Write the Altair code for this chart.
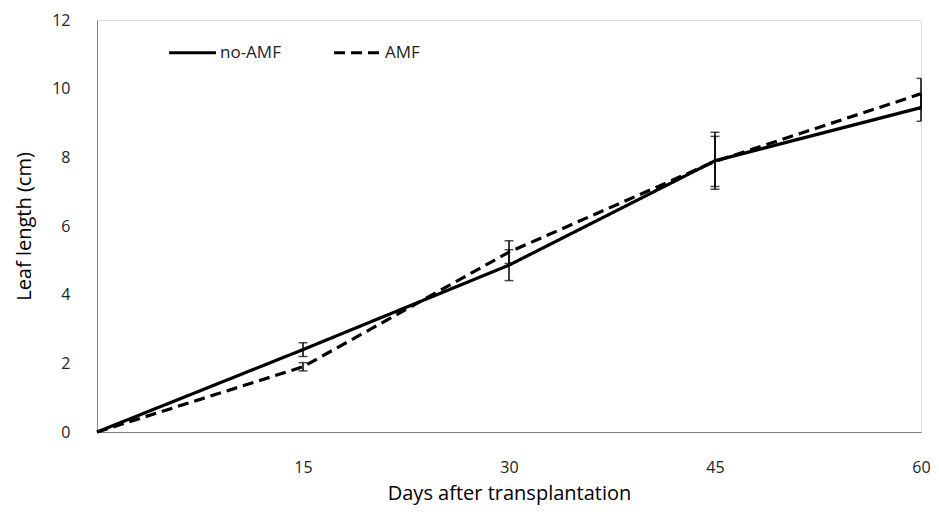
import altair as alt
import pandas as pd

# Leaf length over time, with and without arbuscular mycorrhizal fungi
days = [0, 15, 30, 45, 60]
series_names = ["no-AMF", "AMF"]
no_amf = [0, 2.40, 4.86, 7.90, 9.45]
no_amf_err = [0, 0.20, 0.45, 0.83, 0.40]
amf = [0, 1.90, 5.24, 7.88, 9.85]
amf_err = [0, 0.12, 0.33, 0.73, 0.45]
x_ticks = [15, 30, 45, 60]
y_ticks = [0, 2, 4, 6, 8, 10, 12]

rows = []
for name, vals, errs in [("no-AMF", no_amf, no_amf_err), ("AMF", amf, amf_err)]:
    for d, v, e in zip(days, vals, errs):
        rows.append({"day": d, "series": name, "length": v, "err": e,
                     "lo": v - e, "hi": v + e})
df = pd.DataFrame(rows)

FONT = "Open Sans"

x_enc = alt.X(
    "day:Q",
    scale=alt.Scale(domain=[0, 60], nice=False),
    axis=alt.Axis(
        values=x_ticks, title="Days after transplantation", grid=False,
        ticks=False, domainColor="#808080", labelFontSize=16,
        labelPadding=27, labelFlush=False, titleFontSize=20, titlePadding=8,
        labelColor="#222", titleColor="#000", labelFont=FONT, titleFont=FONT,
        titleFontWeight="normal",
    ),
)
y_scale = alt.Scale(domain=[0, 12], nice=False)

lines = alt.Chart(df).mark_line(strokeWidth=3.2, color="black").encode(
    x=x_enc,
    y=alt.Y(
        "length:Q", scale=y_scale,
        axis=alt.Axis(
            values=y_ticks, title="Leaf length (cm)", grid=False, ticks=False,
            domainColor="#808080", labelFontSize=16, labelPadding=27,
            titleFontSize=20, titlePadding=17, labelColor="#222",
            titleColor="#000", labelFont=FONT, titleFont=FONT,
            titleFontWeight="normal",
        ),
    ),
    strokeDash=alt.StrokeDash(
        "series:N",
        scale=alt.Scale(domain=series_names, range=[[1, 0], [11, 6]]),
        legend=alt.Legend(
            title=None, orient="none", legendX=70, legendY=7,
            direction="horizontal", symbolType="stroke", symbolSize=2200,
            symbolStrokeWidth=3.2, symbolStrokeColor="black",
            labelFontSize=17, labelFont=FONT, labelColor="#222",
            labelOffset=2, columnPadding=46,
        ),
    ),
    detail="series:N",
)

err_data = alt.Chart(df).transform_filter(alt.datum.day > 0)

bars = err_data.mark_rule(color="black", strokeWidth=1.5).encode(
    x="day:Q",
    y=alt.Y("lo:Q", scale=y_scale),
    y2="hi:Q",
)
caps_lo = err_data.mark_tick(color="black", orient="horizontal", size=9,
                             thickness=1.5, clip=True).encode(
    x="day:Q", y=alt.Y("lo:Q", scale=y_scale)
)
caps_hi = err_data.mark_tick(color="black", orient="horizontal", size=9,
                             thickness=1.5, clip=True).encode(
    x="day:Q", y=alt.Y("hi:Q", scale=y_scale)
)

chart = (
    alt.layer(lines, bars, caps_lo, caps_hi)
    .properties(
        width=824, height=412,
        autosize=alt.AutoSizeParams(type="none"),
        padding={"left": 97, "top": 20, "right": 18, "bottom": 80},
    )
    .configure_view(stroke=None)
    .configure(background="white")
)

chart.save("out.html", embed_options={"renderer": "svg", "actions": False})
